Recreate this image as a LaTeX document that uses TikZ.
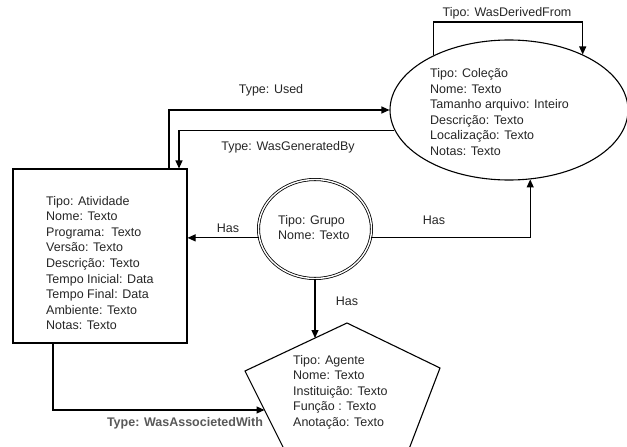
\documentclass[tikz,border=0pt]{standalone}
\usepackage{fontspec}
\setmainfont{Liberation Sans}
\usetikzlibrary{arrows.meta,shapes.geometric}
\begin{document}
\begin{tikzpicture}[x=1pt,y=-1pt,
  every node/.style={font=\fontsize{12.5}{15.6}\selectfont, text=black!85},
  shapeline/.style={draw=black, line width=1.1pt},
  arr/.style={line width=1.1pt, -{Triangle[length=8pt,width=7pt]}},
  txt/.style={align=left, inner sep=0pt, anchor=west}]
\fill[white] (0,0) rectangle (627,447);
\useasboundingbox (0,0) rectangle (627,447);
% shapes
\node[shapeline, ellipse, minimum width=238pt, minimum height=140pt, inner sep=0pt] (coll) at (509,110) {};
\node[shapeline, rectangle, minimum width=174pt, minimum height=174pt, inner sep=0pt] (act) at (100,256) {};
\node[ellipse, draw=black, double=white, line width=0.8pt, double distance=1.4pt, minimum width=113pt, minimum height=99pt, inner sep=0pt] (grp) at (315,229) {};
\draw[shapeline, line join=miter] (347,323) -- (440,368) -- (401,470) -- (294.5,470) -- (245,371) -- cycle;
\coordinate (pTop) at (315,338);
\coordinate (pLeft) at (264.5,410);
% texts
\node[txt] (tColl) at (430,112) {Tipo: Coleção\\Nome: Texto\\Tamanho arquivo: Inteiro\\Descrição: Texto\\Localização: Texto\\Notas: Texto};
\node[txt] (tAct) at (46,263) {Tipo: Atividade\\Nome: Texto\\Programa:~~Texto\\Versão: Texto\\Descrição: Texto\\Tempo Inicial: Data\\Tempo Final: Data\\Ambiente: Texto\\Notas: Texto};
\node[txt, font=\fontsize{12.5}{15}\selectfont] (tGrp) at (278,227.5) {Tipo: Grupo\\Nome: Texto};
\node[txt] (tAg) at (293,392) {Tipo: Agente\\Nome: Texto\\Instituição: Texto\\Função : Texto\\Anotação: Texto};
% connectors
\draw[arr] ([xshift=69pt]act.north) |- (coll.west);
\draw[arr] (coll.190.5) -| ([xshift=79pt]act.north);
\draw[arr] (coll.144.1) -- (coll.144.1 |- 0,22) -- (coll.37.1 |- 0,22) -- (coll.37.1);
\draw[arr] (grp.-9) -| (coll.-73);
\draw[arr] (grp.189) -- (grp.189 -| act.east);
\draw[arr] (grp.south) -- (pTop);
\draw[arr] ([xshift=-47pt]act.south) |- (pLeft);
% labels
\node (lDer) at (507,13) {Tipo: WasDerivedFrom};
\node (lUsed) at (271,90) {Type: Used};
\node (lGen) at (288,147) {Type: WasGeneratedBy};
\node (lHas1) at (228,228) {Has};
\node (lHas2) at (434,220) {Has};
\node (lHas3) at (347,301) {Has};
\node[font=\fontsize{12.5}{15.6}\selectfont\bfseries, text=black!65] (lAssoc) at (185,423) {Type: WasAssocietedWith};
\end{tikzpicture}
\end{document}
